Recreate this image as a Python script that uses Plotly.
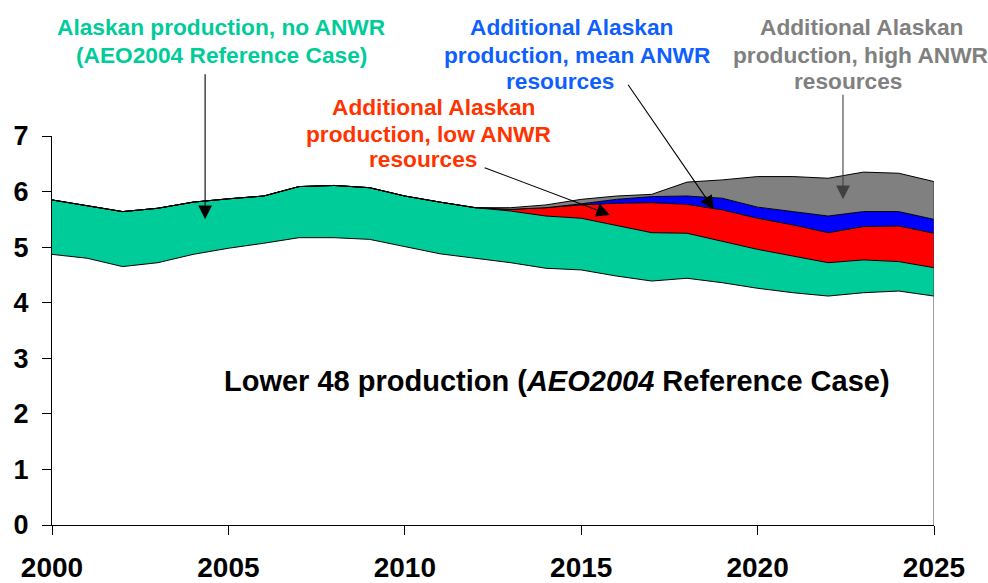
import plotly.graph_objects as go

years = list(range(2000, 2026))
lower48 = [4.87, 4.80, 4.65, 4.72, 4.87, 4.98, 5.07, 5.17, 5.17, 5.14, 5.01, 4.88, 4.80,
           4.72, 4.62, 4.59, 4.48, 4.39, 4.44, 4.36, 4.26, 4.18, 4.12, 4.18, 4.21, 4.12]
alaska_no_anwr = [0.98, 0.94, 0.99, 0.98, 0.94, 0.89, 0.85, 0.92, 0.94, 0.93, 0.91, 0.93, 0.91,
                  0.93, 0.94, 0.93, 0.91, 0.87, 0.81, 0.75, 0.70, 0.66, 0.60, 0.59, 0.53, 0.51]
add_low = [0] * 13 + [0.03, 0.15, 0.24, 0.40, 0.54, 0.52, 0.56, 0.56, 0.56, 0.54, 0.60, 0.64, 0.62]
add_mean = [0] * 13 + [0.00, 0.00, 0.02, 0.07, 0.11, 0.15, 0.21, 0.20, 0.24, 0.30, 0.27, 0.26, 0.25]
add_high = [0] * 13 + [0.03, 0.05, 0.08, 0.06, 0.04, 0.25, 0.33, 0.55, 0.63, 0.68, 0.71, 0.69, 0.68]

FONT = "Liberation Sans, Arial, sans-serif"
GREEN = "#00CC99"
YMAX = 7
W, H = 988, 583
ML, MR, MT, MB = 52, 54, 136, 58

fig = go.Figure()
series = [
    ("Lower 48", lower48, "#FFFFFF"),
    ("Alaska, no ANWR", alaska_no_anwr, GREEN),
    ("Low ANWR", add_low, "#FF0000"),
    ("Mean ANWR", add_mean, "#0000FF"),
    ("High ANWR", add_high, "#808080"),
]
for name, vals, col in series:
    fig.add_trace(go.Scatter(
        x=years, y=vals, name=name, stackgroup="one", mode="lines",
        fillcolor=col, line=dict(color="#000000", width=1), hoverinfo="skip"))

# right edge of the stacked areas
total_last = lower48[-1] + alaska_no_anwr[-1] + add_low[-1] + add_mean[-1] + add_high[-1]
fig.add_trace(go.Scatter(x=[years[-1], years[-1]], y=[0, total_last], mode="lines",
                         line=dict(color="#404040", width=1), hoverinfo="skip"))

fig.update_layout(
    width=W, height=H,
    margin=dict(l=ML, r=MR, t=MT, b=MB),
    paper_bgcolor="white", plot_bgcolor="white",
    showlegend=False,
    font=dict(family=FONT, size=27, color="black", weight="bold"),
)
fig.update_xaxes(range=[2000, 2025], tickvals=[2000, 2005, 2010, 2015, 2020, 2025],
                 automargin=False,
                 showgrid=False, zeroline=False, showline=True, linecolor="black", linewidth=1,
                 ticks="outside", ticklen=9, tickcolor="black", ticklabelstandoff=8,
                 tickfont=dict(family=FONT, size=28, color="black", weight="bold"))
fig.update_yaxes(range=[0, YMAX], tickvals=list(range(0, 8)),
                 automargin=False,
                 showgrid=False, zeroline=False, showline=True, linecolor="black", linewidth=1,
                 ticks="outside", ticklen=9, tickcolor="black", ticklabelstandoff=8,
                 tickfont=dict(family=FONT, size=27, color="black", weight="bold"))

PW = W - ML - MR
PH = H - MT - MB


def px_to_x(px):
    return 2000 + (px - ML) / PW * 25


def py_to_paper(py):
    return (H - MB - py) / PH


# label lines: (text, centre x px, centre y px, colour)
label_lines = [
    ("Alaskan production, no ANWR", 221, 27, GREEN),
    ("(AEO2004 Reference Case)", 221, 55, GREEN),
    ("Additional Alaskan", 433, 107, "#FF3300"),
    ("production, low ANWR", 428.5, 134, "#FF3300"),
    ("resources", 422.5, 159, "#FF3300"),
    ("Additional Alaskan", 571, 27.5, "#0F5FFF"),
    ("production, mean ANWR", 576.5, 55, "#0F5FFF"),
    ("resources", 560, 80.5, "#0F5FFF"),
    ("Additional Alaskan", 861, 27.5, "#808080"),
    ("production, high ANWR", 860, 55, "#808080"),
    ("resources", 848, 80.5, "#808080"),
]
for txt, cx, cy, col in label_lines:
    fig.add_annotation(x=px_to_x(cx), y=py_to_paper(cy), xref="x", yref="paper", text=txt,
                       showarrow=False, xanchor="center", yanchor="middle",
                       font=dict(family=FONT, size=22.7, color=col, weight="bold"))

fig.add_annotation(x=2014.31, y=2.60, xref="x", yref="y",
                   text="Lower 48 production (<i>AEO2004</i> Reference Case)", showarrow=False,
                   font=dict(family=FONT, size=29, color="black", weight="bold"))

# arrows
arrows = [
    (2004.34, 5.50, 2004.34, 8.14, "black"),
    (2015.82, 5.58, 2012.22, 6.44, "black"),
    (2018.76, 5.68, 2016.30, 7.95, "black"),
    (2022.42, 5.86, 2022.42, 7.77, "#404040"),
]
for x, y, ax, ay, col in arrows:
    fig.add_annotation(x=x, y=y, ax=ax, ay=ay, xref="x", yref="y", axref="x", ayref="y",
                       text="", showarrow=True, arrowhead=2, arrowsize=2.5, arrowwidth=1.1,
                       arrowcolor=col)

fig.write_html("out.html", config={"displayModeBar": False},
               post_script="document.body.style.margin='0';document.body.style.overflow='hidden';")
